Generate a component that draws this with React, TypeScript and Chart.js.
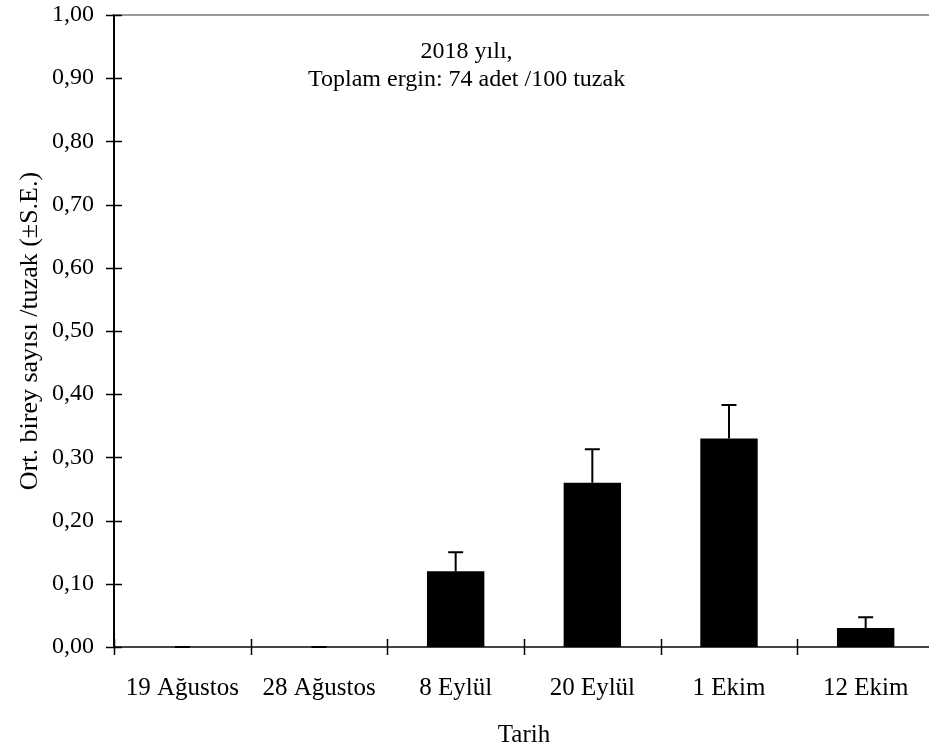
import React, { useEffect, useRef } from "react";
import { Chart, registerables } from "chart.js";

Chart.register(...registerables);

const categories = ["19 Ağustos", "28 Ağustos", "8 Eylül", "20 Eylül", "1 Ekim", "12 Ekim"];
const means = [0, 0, 0.12, 0.26, 0.33, 0.03];
const stdErrors = [0, 0, 0.03, 0.053, 0.053, 0.017];
const titleLines = ["2018 yılı,", "Toplam ergin: 74 adet /100 tuzak"];
const yAxisTitle = "Ort. birey sayısı /tuzak (±S.E.)";
const xAxisTitle = "Tarih";
const yMin = 0;
const yMax = 1;
const yStep = 0.1;

const FONT = "'Liberation Serif', 'Times New Roman', serif";

const decorPlugin = {
  id: "decor",
  afterDraw(chart: any) {
    const ctx = chart.ctx;
    const { left, right, top, bottom } = chart.chartArea;
    const xs = chart.scales.x;
    const ys = chart.scales.y;
    ctx.save();
    // top border (grey)
    ctx.strokeStyle = "#9a9a9a";
    ctx.lineWidth = 2;
    ctx.beginPath();
    ctx.moveTo(left, top);
    ctx.lineTo(chart.width, top);
    ctx.stroke();

    // y tick marks crossing the axis
    ctx.strokeStyle = "#000";
    ctx.lineWidth = 1.5;
    ys.ticks.forEach((t: any) => {
      const y = Math.round(ys.getPixelForValue(t.value)) + 0.5;
      ctx.beginPath();
      ctx.moveTo(left - 8, y);
      ctx.lineTo(left + 8, y);
      ctx.stroke();
    });
    // x tick marks at category boundaries
    const n = categories.length;
    const catW = (xs.right - xs.left) / n;
    for (let i = 0; i <= n; i++) {
      const x = Math.round(xs.left + i * catW) + 0.5;
      ctx.beginPath();
      ctx.moveTo(x, bottom - 8);
      ctx.lineTo(x, bottom + 8);
      ctx.stroke();
    }

    // error bars
    const meta = chart.getDatasetMeta(0);
    ctx.strokeStyle = "#000";
    ctx.lineWidth = 2;
    meta.data.forEach((bar: any, i: number) => {
      const x = bar.x;
      const y0 = ys.getPixelForValue(means[i]);
      const y1 = ys.getPixelForValue(means[i] + stdErrors[i]);
      ctx.beginPath();
      ctx.moveTo(x, y0);
      ctx.lineTo(x, y1);
      ctx.moveTo(x - 7.5, y1);
      ctx.lineTo(x + 7.5, y1);
      ctx.stroke();
    });

    // in-plot title
    ctx.fillStyle = "#000";
    ctx.font = `24px ${FONT}`;
    ctx.textAlign = "center";
    ctx.textBaseline = "alphabetic";
    const tx = left + (right - left) * 0.43;
    ctx.fillText(titleLines[0], tx, top + 43);
    ctx.fillText(titleLines[1], tx, top + 71);

    // x axis title
    ctx.font = `25px ${FONT}`;
    ctx.fillText(xAxisTitle, (left + right) / 2, bottom + 95);

    // y axis title (rotated)
    ctx.save();
    ctx.font = `26px ${FONT}`;
    ctx.translate(37, (top + bottom) / 2);
    ctx.rotate(-Math.PI / 2);
    ctx.textAlign = "center";
    ctx.textBaseline = "alphabetic";
    ctx.fillText(yAxisTitle, 0, 0);
    ctx.restore();

    ctx.restore();
  },
};

export default function App() {
  const ref = useRef<HTMLCanvasElement | null>(null);
  useEffect(() => {
    if (!ref.current) return;
    const chart = new Chart(ref.current, {
      type: "bar",
      data: {
        labels: categories,
        datasets: [
          {
            data: means,
            backgroundColor: "#000",
            borderWidth: 0,
            barPercentage: 0.42,
            categoryPercentage: 1,
          },
        ],
      },
      options: {
        responsive: false,
        animation: false,
        devicePixelRatio: 1,
        layout: { padding: { top: 15, left: 0, right: 0, bottom: 0 } },
        plugins: {
          legend: { display: false },
          tooltip: { enabled: false },
          title: { display: false },
        },
        scales: {
          x: {
            grid: { display: false, drawTicks: false },
            border: { display: true, color: "#444", width: 2 },
            ticks: {
              color: "#000",
              font: { family: FONT, size: 25 },
              padding: 26,
              maxRotation: 0,
              autoSkip: false,
            },
            afterFit: (s: any) => {
              s.height = 102;
              s.paddingLeft = 0;
              s.paddingRight = 0;
            },
          },
          y: {
            min: yMin,
            max: yMax,
            grid: { display: false, drawTicks: false },
            border: { display: true, color: "#000", width: 2 },
            ticks: {
              stepSize: yStep,
              color: "#000",
              font: { family: FONT, size: 24 },
              padding: 20,
              callback: (v: any) => Number(v).toFixed(2).replace(".", ","),
            },
            afterFit: (s: any) => {
              s.width = 114;
              s.paddingTop = 0;
              s.paddingBottom = 0;
            },
          },
        },
      },
      plugins: [decorPlugin],
    });
    return () => chart.destroy();
  }, []);
  return (
    <div
      style={{
        position: "fixed",
        left: 0,
        top: 0,
        width: 929,
        height: 749,
        overflow: "hidden",
        background: "#fff",
      }}
    >
      <canvas ref={ref} width={934} height={749} style={{ display: "block" }} />
    </div>
  );
}
